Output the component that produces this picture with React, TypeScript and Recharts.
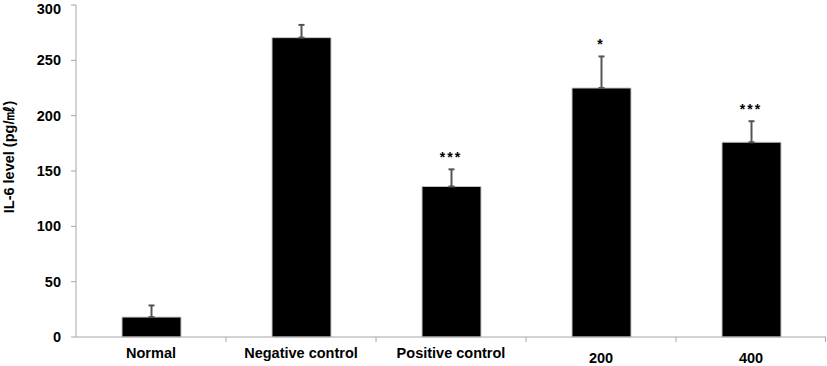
import {
  Bar,
  ComposedChart,
  ErrorBar,
  LabelList,
  Line,
  XAxis,
  YAxis,
} from "recharts";

const categories = ["Normal", "Negative control", "Positive control", "200", "400"];
const means = [18, 270.5, 136, 225, 176];
const errUp = [10.5, 11.5, 15.5, 28.5, 19];
const sig = ["", "", "***", "*", "***"];
const yTicks = [0, 50, 100, 150, 200, 250, 300];

const FONT = "'Liberation Sans', Arial, sans-serif";
const AXIS = "#a6a6a6";

const data = categories.map((name, i) => ({
  name,
  mean: means[i],
  err: [0, errUp[i]],
  top: means[i] + errUp[i],
  sig: sig[i],
}));

// category label plus the boundary tick marks between categories
function XTick(props: any) {
  const { x, y, payload, index, visibleTicksCount } = props;
  const half = payload.offset ?? 75;
  const numeric = /^\d+$/.test(payload.value);
  const last = index === visibleTicksCount - 1;
  return (
    <g>
      {index > 0 && <line x1={x - half} x2={x - half} y1={y} y2={y + 5} stroke={AXIS} />}
      {last && <line x1={x + half - 0.5} x2={x + half - 0.5} y1={y} y2={y + 5} stroke={AXIS} />}
      <text
        x={x}
        y={y + (numeric ? 26 : 21)}
        textAnchor="middle"
        fontFamily={FONT}
        fontWeight="bold"
        fontSize={14.5}
        fill="#000"
      >
        {payload.value}
      </text>
    </g>
  );
}

function YLabel(props: any) {
  const vb = props.viewBox;
  const cx = 9;
  const cy = vb.y + vb.height / 2 - 14;
  return (
    <text
      x={cx}
      y={cy}
      transform={`rotate(-90 ${cx} ${cy})`}
      textAnchor="middle"
      dominantBaseline="central"
      fontFamily={FONT}
      fontWeight="bold"
      fontSize={14.5}
      fill="#000"
    >
      IL-6 level (pg/㎖)
    </text>
  );
}

function Stars(props: any) {
  const { x, y, value } = props;
  if (!value) return null;
  return (
    <text
      x={x}
      y={y - 7}
      textAnchor="middle"
      fontFamily={FONT}
      fontWeight="bold"
      fontSize={14}
      letterSpacing={2}
      fill="#000"
    >
      {value}
    </text>
  );
}

export default function App() {
  return (
    <div style={{ position: "absolute", left: 0, top: 0, background: "#fff" }}>
      <ComposedChart
        width={827}
        height={366}
        data={data}
        margin={{ top: 5, right: 1, bottom: 0, left: 0 }}
      >
        <XAxis
          xAxisId="cat"
          dataKey="name"
          height={29}
          stroke={AXIS}
          tickLine={false}
          tickSize={0}
          tickMargin={0}
          tick={<XTick />}
          interval={0}
        />
        <YAxis
          domain={[0, 300]}
          ticks={yTicks}
          width={76}
          stroke={AXIS}
          tickSize={5}
          tickMargin={10}
          tick={{ fill: "#000", fontFamily: FONT, fontWeight: "bold", fontSize: 14.5 }}
          label={{ content: <YLabel /> }}
        />
        <Bar
          xAxisId="cat"
          dataKey="mean"
          fill="#000"
          stroke="#c4c4c4"
          strokeWidth={1}
          barSize={59}
          isAnimationActive={false}
        >
          <ErrorBar dataKey="err" direction="y" width={3} stroke="#555" strokeWidth={2} />
        </Bar>
        <Line
          xAxisId="cat"
          dataKey="top"
          stroke="none"
          dot={false}
          activeDot={false}
          isAnimationActive={false}
        >
          <LabelList dataKey="sig" content={<Stars />} />
        </Line>
      </ComposedChart>
    </div>
  );
}
